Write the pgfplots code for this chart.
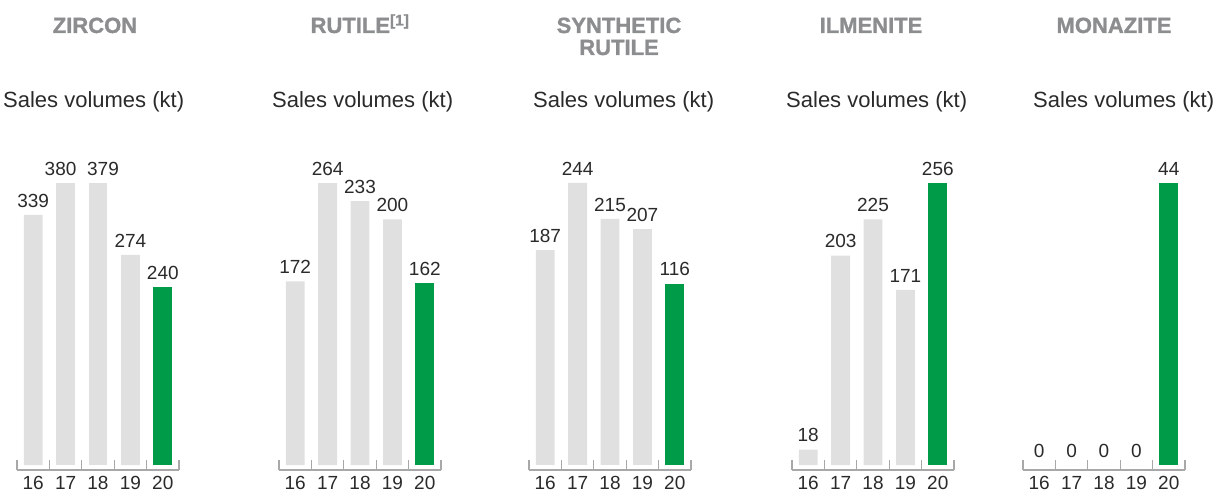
\documentclass[border=0pt]{standalone}
\usepackage{fontspec}
\setmainfont{Liberation Sans}
\newfontfamily\heavyfont[FakeBold=1.2]{Liberation Sans Bold}
\usepackage{pgfplots}
\pgfplotsset{compat=1.18}

\definecolor{barGrey}{HTML}{E0E0E0}
\definecolor{barGreen}{HTML}{009B48}
\definecolor{titleGrey}{HTML}{8B8D8F}
\definecolor{axisGrey}{HTML}{A8A8A8}
\definecolor{txt}{HTML}{2A2A2A}

\newcommand{\numfont}{\fontsize{19}{20}\selectfont}
\newcommand{\subfont}{\fontsize{22}{26}\selectfont}
\newcommand{\ttlfont}{\fontsize{22}{22}\selectfont\heavyfont}

% one panel = one small axis, the tallest bar always ends at the same height.
% bar heights follow the drawn bars of the original (not always to scale),
% the printed numbers are the point meta
\pgfplotsset{
  panel/.style={
    anchor=south west,
    scale only axis,
    width=162pt, height=287pt,
    clip=false,
    xmin=-0.5, xmax=4.5,
    axis x line=bottom,
    axis y line=none,
    axis line style={axisGrey, line width=1.5pt, -},
    xtick={0,1,2,3,4},
    xticklabels={16,17,18,19,20},
    major tick length=0pt,
    minor xtick={-0.5,0.5,1.5,2.5,3.5,4.5},
    minor tick length=10pt,
    tick align=inside,
    minor tick style={axisGrey, line width=1.3pt},
    xticklabel style={font=\numfont, text=txt, yshift=-2.5pt},
    point meta=explicit symbolic,
    nodes near coords,
    nodes near coords style={font=\numfont, text=txt, anchor=south, yshift=4pt},
  },
  greybar/.style={ybar, bar shift=0pt, bar width=0.58, fill=barGrey, draw=none},
  greenbar/.style={ybar, bar shift=0pt, bar width=0.58, fill=barGreen, draw=none},
}

\begin{document}
\begin{tikzpicture}
\useasboundingbox (0pt,0pt) rectangle (1214pt,493pt);

% ---------------- ZIRCON
\begin{axis}[panel, at={(17pt,23pt)}, ymin=-6.74, ymax=380]
\addplot[greybar] coordinates {(0,337)[339] (3,283)[274]};
% the two equal bars: labels pushed apart as in the original
\addplot[greybar, nodes near coords style={xshift=-5pt}] coordinates {(1,380)[380]};
\addplot[greybar, nodes near coords style={xshift=5pt}] coordinates {(2,380)[379]};
\addplot[greenbar] coordinates {(4,240)[240]};
\end{axis}

% ---------------- RUTILE
\begin{axis}[panel, at={(279pt,23pt)}, ymin=-4.68, ymax=264]
\addplot[greybar] coordinates {(0,172)[172] (1,264)[264] (2,247)[233] (3,230)[200]};
\addplot[greenbar] coordinates {(4,170)[162]};
\end{axis}

% ---------------- SYNTHETIC RUTILE
\begin{axis}[panel, at={(529pt,23pt)}, ymin=-4.33, ymax=244]
\addplot[greybar] coordinates {(0,186)[187] (1,244)[244] (2,213)[215] (3,204)[207]};
\addplot[greenbar] coordinates {(4,157)[116]};
\end{axis}

% ---------------- ILMENITE
\begin{axis}[panel, at={(792pt,23pt)}, ymin=-4.54, ymax=256]
\addplot[greybar] coordinates {(0,14)[18] (1,190)[203] (2,223)[225] (3,159)[171]};
\addplot[greenbar] coordinates {(4,256)[256]};
\end{axis}

% ---------------- MONAZITE
\begin{axis}[panel, at={(1023pt,23pt)}, ymin=-0.78, ymax=44]
\addplot[greybar] coordinates {(0,0)[0] (1,0)[0] (2,0)[0] (3,0)[0]};
\addplot[greenbar] coordinates {(4,44)[44]};
\end{axis}

% titles
\node[anchor=base, text=titleGrey, font=\ttlfont] at (95pt,460pt) {ZIRCON};
\node[anchor=base, text=titleGrey, font=\ttlfont] at (360pt,460pt) {RUTILE\textsuperscript{[1]}};
\node[anchor=base, text=titleGrey, font=\ttlfont] at (619pt,460pt) {SYNTHETIC};
\node[anchor=base, text=titleGrey, font=\ttlfont] at (619pt,438pt) {RUTILE};
\node[anchor=base, text=titleGrey, font=\ttlfont] at (871pt,460pt) {ILMENITE};
\node[anchor=base, text=titleGrey, font=\ttlfont] at (1114pt,460pt) {MONAZITE};

% sub titles
\foreach \xx in {3,272,533,786,1033}
  \node[anchor=base west, inner sep=0pt, text=txt, font=\subfont] at (\xx pt,385pt) {Sales volumes (kt)};

\end{tikzpicture}
\end{document}
